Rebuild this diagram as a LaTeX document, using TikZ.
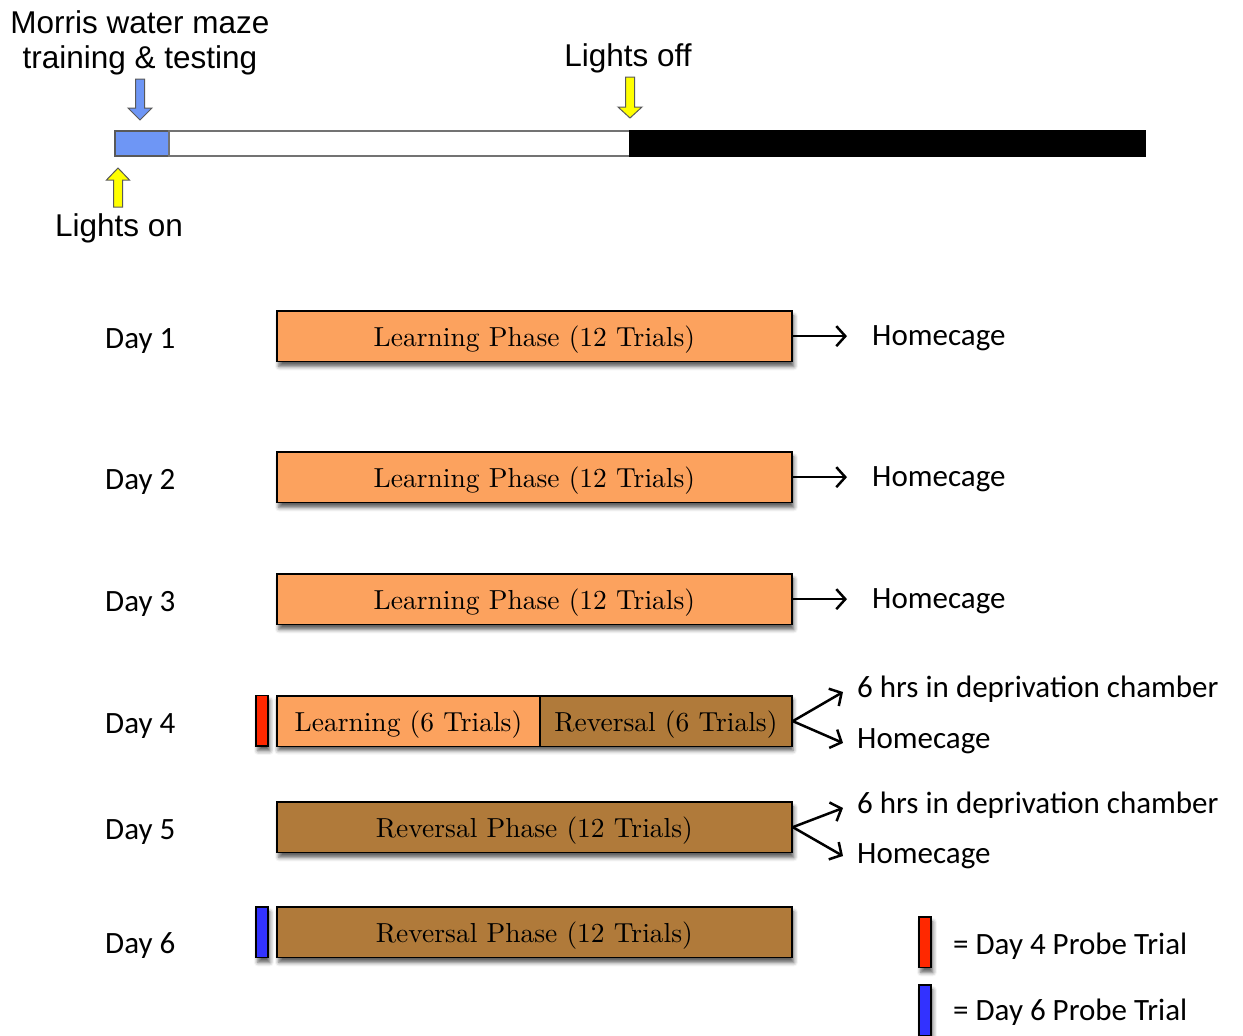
\documentclass[tikz,border=0pt]{standalone}
\usepackage{fontspec}
\newfontfamily\labelfont{Carlito}
\newfontfamily\headfont{Liberation Sans}
\newfontfamily\boxfont{lmroman10-regular}[Extension=.otf]
\usetikzlibrary{arrows.meta,shadows.blur}

\definecolor{learnorange}{RGB}{252,162,94}
\definecolor{revbrown}{RGB}{176,122,58}
\definecolor{probered}{RGB}{255,40,0}
\definecolor{probeblue}{RGB}{50,50,255}
\definecolor{mazeblue}{RGB}{110,150,245}
\definecolor{lampyellow}{RGB}{255,255,0}

\begin{document}
\begin{tikzpicture}[x=1pt,y=-1pt,
  soft/.style={blur shadow={shadow xshift=2pt,shadow yshift=-5pt,
      shadow blur radius=4pt,shadow opacity=65}},
  phase/.style={draw=black,line width=1.8pt,minimum height=50.5pt,
      inner sep=0pt,anchor=north west,
      font=\boxfont\fontsize{27.5}{30}\selectfont,text height=24pt,text depth=3pt},
  learn/.style={phase,fill=learnorange},
  rev/.style={phase,fill=revbrown},
  probe/.style={draw=black,line width=1.8pt,minimum width=12pt,
      minimum height=50.5pt,inner sep=0pt,anchor=north west,soft},
  sidetext/.style={font=\labelfont\fontsize{31}{34}\selectfont,
      inner sep=0pt,anchor=base west},
  headtext/.style={font=\headfont\fontsize{31.5}{35}\selectfont,
      inner sep=0pt,anchor=base},
  arr/.style={line width=2.5pt,
      -{Straight Barb[length=9pt,width=20pt,line width=2.5pt]}},
  pointer/.style={draw=black!65,line width=1pt,line join=miter}
]
\useasboundingbox (0,0) rectangle (1243,1036);

% ---- daily light cycle ----
\node[headtext] (mwm1) at (140,33) {Morris water maze};
\node[headtext] (mwm2) at (140,68) {training \& testing};
\node[headtext] (off) at (628,66) {Lights off};
\node[headtext] (on) at (119,236) {Lights on};

\draw[fill=mazeblue,draw=black!65,line width=1.2pt] (115,131) rectangle (169,156);
\draw[fill=white,draw=black!55,line width=1.2pt] (169,131) rectangle (630,156);
\draw[fill=black,draw=black,line width=1.2pt] (630,131) rectangle (1145,156);

% block pointers
\draw[pointer,fill=mazeblue] (135.5,79) -- (144.5,79) -- (144.5,108) -- (152,108)
  -- (140,120) -- (128,108) -- (135.5,108) -- cycle;
\draw[pointer,fill=lampyellow] (625.5,77) -- (634.5,77) -- (634.5,107) -- (642,107)
  -- (630,118) -- (618,107) -- (625.5,107) -- cycle;
\draw[pointer,fill=lampyellow] (113.5,207) -- (122.5,207) -- (122.5,180) -- (129.5,180)
  -- (118,168) -- (106.5,180) -- (113.5,180) -- cycle;

% ---- day labels ----
\node[sidetext] (d1) at (105,348) {Day 1};
\node[sidetext] (d2) at (105,489) {Day 2};
\node[sidetext] (d3) at (105,611) {Day 3};
\node[sidetext] (d4) at (105,733) {Day 4};
\node[sidetext] (d5) at (105,839) {Day 5};
\node[sidetext] (d6) at (105,953) {Day 6};

% ---- phase boxes ----
\node[learn,soft,minimum width=515pt] (b1) at (276,310) {Learning Phase (12 Trials)};
\node[learn,soft,minimum width=515pt] (b2) at (276,451) {Learning Phase (12 Trials)};
\node[learn,soft,minimum width=515pt] (b3) at (276,573) {Learning Phase (12 Trials)};
\path[soft,fill=white] (276,695) rectangle (791,745.5);
\node[learn,minimum width=263pt] (b4a) at (276,695) {Learning (6 Trials)};
\node[rev,minimum width=252pt] (b4b) at (539,695) {Reversal (6 Trials)};
\node[rev,soft,minimum width=515pt] (b5) at (276,801) {Reversal Phase (12 Trials)};
\node[rev,soft,minimum width=515pt] (b6) at (276,906) {Reversal Phase (12 Trials)};

% probe trial markers
\node[probe,fill=probered] (p4) at (255,694.5) {};
\node[probe,fill=probeblue] (p6) at (255,906) {};

% ---- outcomes ----
\node[sidetext] (h1) at (872,345) {Homecage};
\node[sidetext] (h2) at (872,486) {Homecage};
\node[sidetext] (h3) at (872,608) {Homecage};
\node[sidetext] (s4) at (857,697) {6 hrs in deprivation chamber};
\node[sidetext] (h4) at (857,748) {Homecage};
\node[sidetext] (s5) at (857,813) {6 hrs in deprivation chamber};
\node[sidetext] (h5) at (857,863) {Homecage};

\coordinate (e1) at (847,336);
\coordinate (e2) at (847,476.5);
\coordinate (e3) at (847,598.5);
\coordinate (u4) at (843,692);
\coordinate (l4) at (843,743);
\coordinate (u5) at (843,808);
\coordinate (l5) at (843,856);

\draw[arr] (b1.east) -- (b1.east -| e1);
\draw[arr] (b2.east) -- (b2.east -| e2);
\draw[arr] (b3.east) -- (b3.east -| e3);
\draw[arr] (b4b.east) -- (u4);
\draw[arr] (b4b.east) -- (l4);
\draw[arr] (b5.east) -- (u5);
\draw[arr] (b5.east) -- (l5);

% ---- legend ----
\node[probe,fill=probered] (kr) at (918,916) {};
\node[probe,fill=probeblue] (kb) at (918,984) {};
\node[sidetext] (kr-t) at (953,954) {= Day 4 Probe Trial};
\node[sidetext] (kb-t) at (953,1020) {= Day 6 Probe Trial};
\end{tikzpicture}
\end{document}
